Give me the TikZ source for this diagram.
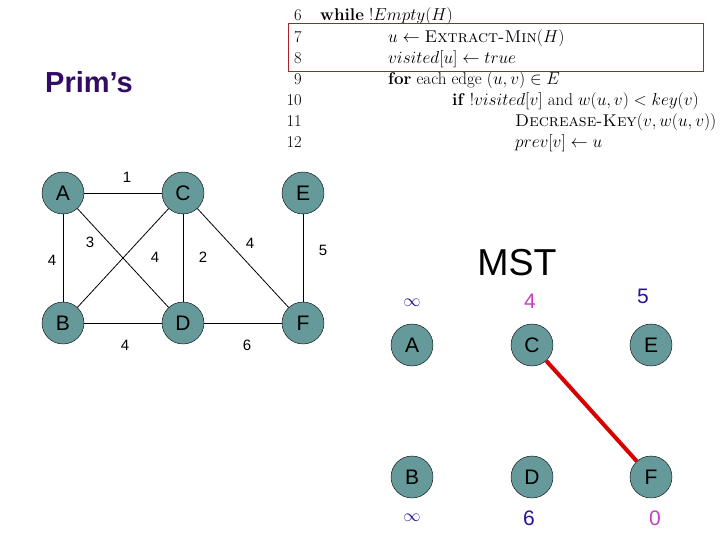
\documentclass[tikz,border=0pt]{standalone}
\usepackage{fontspec}
\setsansfont{Liberation Sans}
\usepackage{tikz}
\usetikzlibrary{positioning}
\definecolor{nodeteal}{RGB}{102,153,153}
\definecolor{titlepurple}{RGB}{51,10,102}
\definecolor{keyblue}{RGB}{40,20,150}
\definecolor{keypink}{RGB}{200,60,200}
\definecolor{boxred}{RGB}{175,30,45}

\begin{document}
\begin{tikzpicture}[
  x=1pt, y=-1pt,
  vert/.style={circle, draw, fill=nodeteal, minimum size=42pt, inner sep=0pt, font=\sffamily\fontsize{21}{21}\selectfont},
  wt/.style={inner sep=0pt, font=\sffamily\fontsize{15}{15}\selectfont},
  edge/.style={line width=0.8pt},
  key/.style={inner sep=0pt, anchor=base, font=\sffamily\fontsize{21}{21}\selectfont},
  lno/.style={inner sep=0pt, anchor=base east, font=\fontsize{16.5}{21}\selectfont},
  code/.style={inner sep=0pt, anchor=base west, font=\fontsize{17}{21}\selectfont},
]
\useasboundingbox (0,0) rectangle (720,540);

% pseudocode
\foreach \n [count=\i from 0] in {6,...,12}
  \node[lno] (n\n) at (302,21+21.1*\i) {\n};
\node[code] (l6) at (320,21) {\textbf{while} $!Empty(H)$};
\node[code] (l7) at (388,42.1) {$u \leftarrow \textsc{Extract-Min}(H)$};
\node[code] (l8) at (388,63.2) {$visited[u] \leftarrow true$};
\node[code] (l9) at (388,84.3) {\textbf{for} each edge $(u,v) \in E$};
\node[code] (l10) at (452,105.4) {\textbf{if} $!visited[v]$ and $w(u,v) < key(v)$};
\node[code] (l11) at (515,126.5) {\textsc{Decrease-Key}$(v,w(u,v))$};
\node[code] (l12) at (515,147.6) {$prev[v] \leftarrow u$};
\draw[boxred, line width=1pt] (288,24) rectangle (703,72);

\node[inner sep=0pt, anchor=base west, text=titlepurple, font=\sffamily\bfseries\fontsize{29}{29}\selectfont] (title) at (45,93) {Prim’s};

% graph
\node[vert] (A) at (63,193) {A};
\node[vert] (C) at (183,193) {C};
\node[vert] (E) at (303,193) {E};
\node[vert] (B) at (63,323) {B};
\node[vert] (D) at (183,323) {D};
\node[vert] (F) at (303,323) {F};
\draw[edge] (A) -- (C);
\draw[edge] (A) -- (B);
\draw[edge] (A) -- (D);
\draw[edge] (B) -- (C);
\draw[edge] (C) -- (D);
\draw[edge] (C) -- (F);
\draw[edge] (B) -- (D);
\draw[edge] (D) -- (F);
\draw[edge] (E) -- (F);
\node[wt] (wAC) at (127,177) {1};
\node[wt] (wAD) at (90,242) {3};
\node[wt] (wAB) at (52,260) {4};
\node[wt] (wBC) at (155,257) {4};
\node[wt] (wCD) at (203,257) {2};
\node[wt] (wCF) at (250,243) {4};
\node[wt] (wEF) at (323,250) {5};
\node[wt] (wBD) at (125,345) {4};
\node[wt] (wDF) at (247,345) {6};

% MST
\node[inner sep=0pt, anchor=base, font=\sffamily\fontsize{37.5}{37.5}\selectfont] (mst) at (517,275) {MST};
\node[vert] (mA) at (412,345) {A};
\node[vert] (mC) at (532,345) {C};
\node[vert] (mE) at (651,345) {E};
\node[vert] (mB) at (412,477) {B};
\node[vert] (mD) at (532,477) {D};
\node[vert] (mF) at (651,477) {F};
\draw[red!85!black, line width=4pt] (mC) -- (mF);
\node[inner sep=0pt, text=keyblue, font=\fontsize{17}{17}\selectfont] (kA) at (412,303) {$\infty$};
\node[key, text=keypink] (kC) at (530,308) {4};
\node[key, text=keyblue] (kE) at (643,303) {5};
\node[inner sep=0pt, text=keyblue, font=\fontsize{17}{17}\selectfont] (kB) at (412,518) {$\infty$};
\node[key, text=keyblue] (kD) at (529,525) {6};
\node[key, text=keypink] (kF) at (655,525) {0};
\end{tikzpicture}
\end{document}
